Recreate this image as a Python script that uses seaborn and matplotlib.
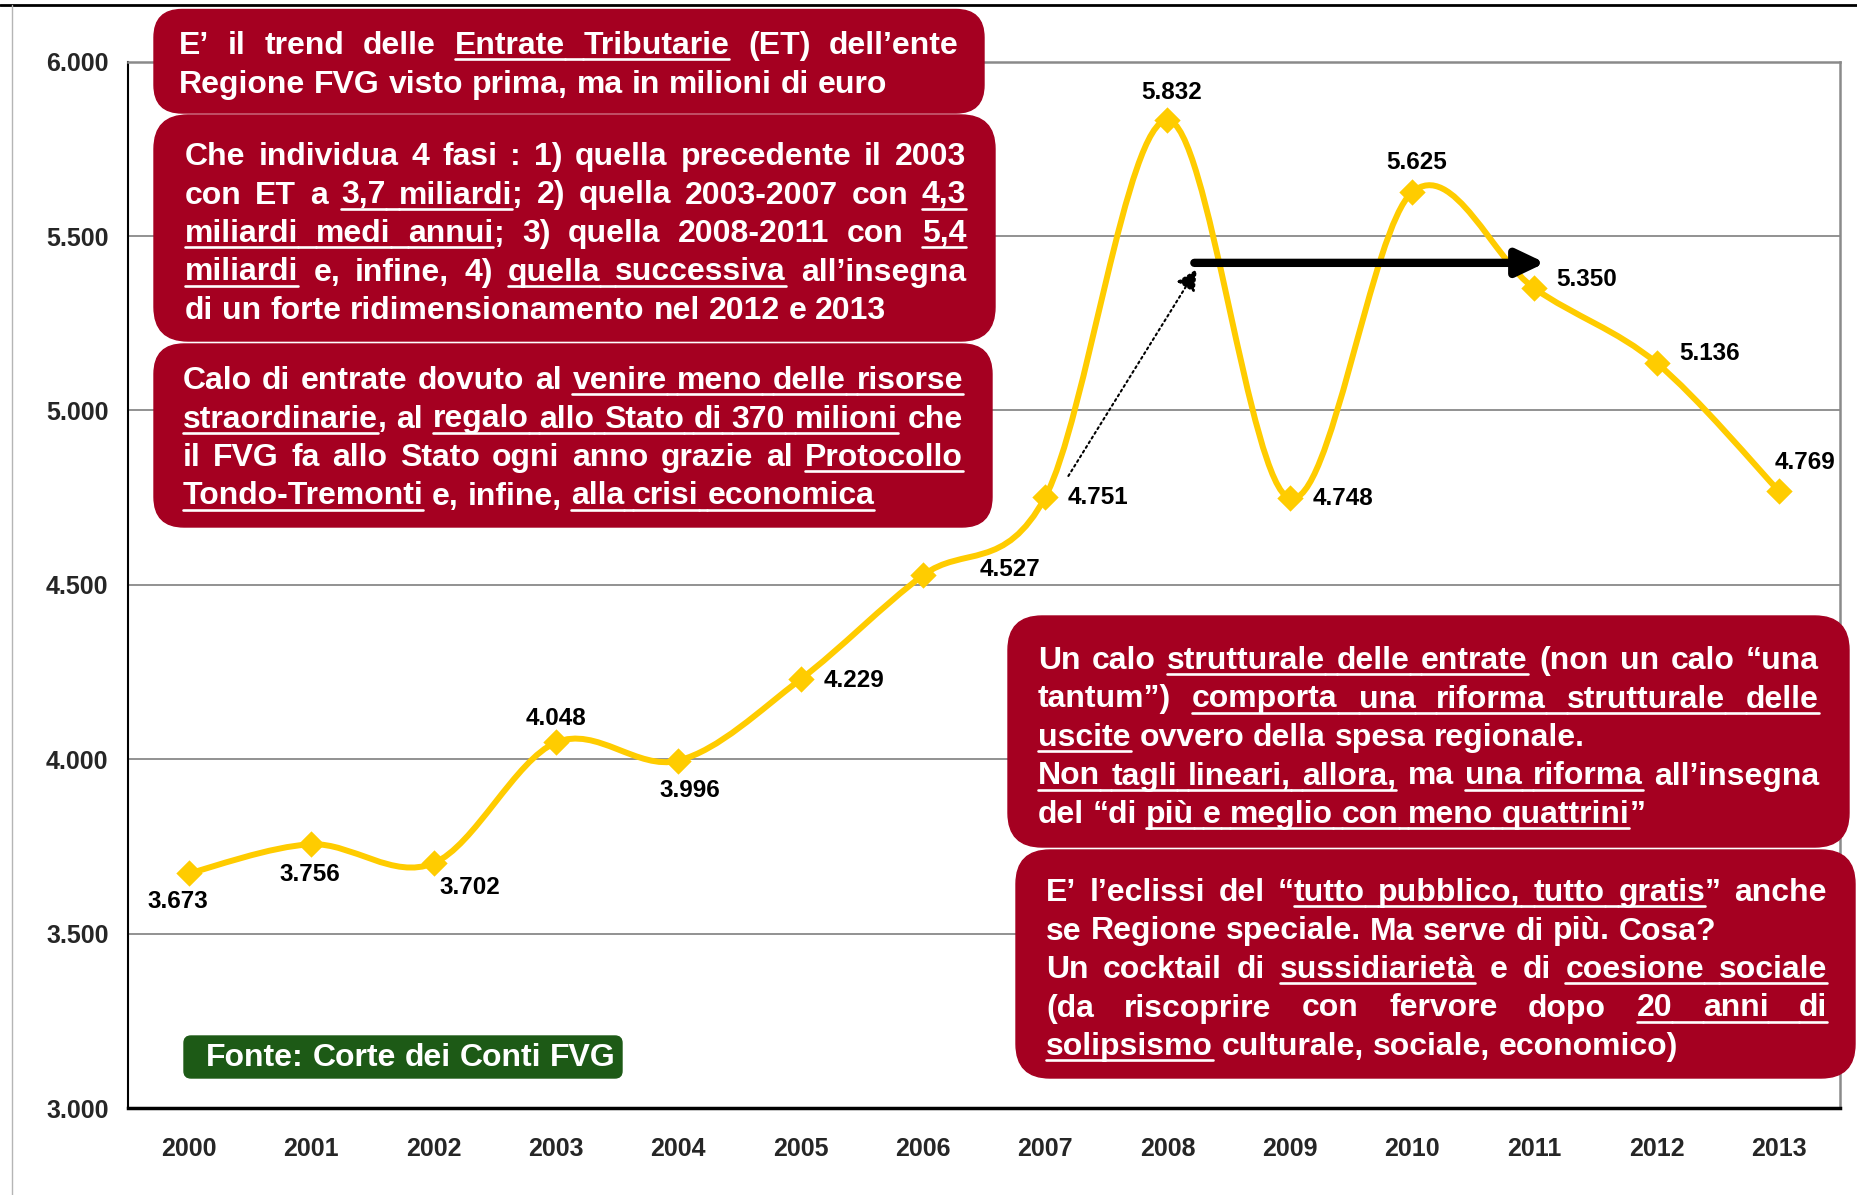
import matplotlib
matplotlib.use("Agg")
import matplotlib.pyplot as plt
import seaborn as sns
import pandas as pd
import numpy as np
from matplotlib.patches import FancyBboxPatch, PathPatch
from matplotlib.path import Path
from matplotlib.lines import Line2D
from matplotlib.transforms import IdentityTransform
from matplotlib.font_manager import FontProperties

# --- data ---
years = ["2000", "2001", "2002", "2003", "2004", "2005", "2006",
         "2007", "2008", "2009", "2010", "2011", "2012", "2013"]
entrate = [3673, 3756, 3702, 4048, 3996, 4229, 4527,
           4751, 5832, 4748, 5625, 5350, 5136, 4769]
# label offsets in pixels (dx, dy), screen-down positive
label_offsets = [(-11, 28), (-2, 30), (36, 24), (0, -24), (12, 30), (53, 1), (87, -6),
                 (53, 0), (4, -28), (53, 0), (5, -30), (52, -9), (53, -9), (26, -28)]

W, H = 1858, 1195
RED = "#A50021"
GREEN = "#1D5A16"
YELLOW = "#FFCC00"

sns.set_style("white")
plt.rcParams["font.family"] = ["Liberation Sans", "DejaVu Sans"]
plt.rcParams["font.weight"] = "bold"

df = pd.DataFrame({"anno": years, "valore": entrate})
df["pos"] = np.arange(len(years))

fig = plt.figure(figsize=(W / 100, H / 100), dpi=100)
ax = fig.add_axes([128 / W, 1 - 1108 / H, (1840 - 128) / W, (1108 - 61.6) / H])


# --- smoothed line (Excel-like Catmull-Rom bezier) ---
def smooth_path(xs, ys):
    pts = np.column_stack([xs, ys]).astype(float)
    ext = np.vstack([pts[0], pts, pts[-1]])
    verts = [tuple(pts[0])]
    codes = [Path.MOVETO]
    for i in range(len(pts) - 1):
        p0, p1, p2, p3 = ext[i], ext[i + 1], ext[i + 2], ext[i + 3]
        c1 = p1 + (p2 - p0) / 6
        c2 = p2 - (p3 - p1) / 6
        verts += [tuple(c1), tuple(c2), tuple(p2)]
        codes += [Path.CURVE4] * 3
    return Path(verts, codes)


ax.add_patch(PathPatch(smooth_path(df["pos"], df["valore"]), fc="none",
                       ec=YELLOW, lw=4.3, zorder=3, capstyle="round"))
sns.scatterplot(data=df, x="pos", y="valore", marker="D", s=180, color=YELLOW,
                edgecolor=YELLOW, linewidth=0, zorder=4, ax=ax, legend=False)

for i, (v, (dx, dy)) in enumerate(zip(entrate, label_offsets)):
    ax.annotate(f"{v:,}".replace(",", "."), (i, v), xytext=(dx, -dy),
                textcoords="offset pixels", ha="center", va="center",
                fontsize=17.5, fontweight="bold", color="black", zorder=5)

# arrows
ax.annotate("", xy=(11.09, 5423), xytext=(8.22, 5423),
            arrowprops=dict(arrowstyle="-|>,head_length=1.05,head_width=0.5",
                            lw=6, color="black", shrinkA=0, shrinkB=0,
                            mutation_scale=16), zorder=6)
ax.annotate("", xy=(8.24, 5405), xytext=(7.19, 4812),
            arrowprops=dict(arrowstyle="-|>,head_length=0.8,head_width=0.4",
                            lw=1.5, ls=":", color="black", shrinkA=0, shrinkB=0,
                            mutation_scale=16), zorder=6)

# axes styling
ax.set_xlim(-0.5, 13.5)
ax.set_ylim(3000, 6000)
yt = np.arange(3000, 6001, 500)
ax.set_yticks(yt)
ax.set_yticklabels([f"{v:,}".replace(",", ".") for v in yt])
ax.set_xticks(range(len(years)))
ax.set_xticklabels(years)
ax.set_xticks(np.arange(-0.5, 14, 1), minor=True)
ax.tick_params(axis="x", which="major", length=0, pad=21, labelsize=18)
ax.tick_params(axis="x", which="minor", length=8, width=1, color="black", direction="out")
ax.tick_params(axis="y", length=7, width=1, color="black", direction="out", pad=7, labelsize=18)
for t in ax.get_xticklabels() + ax.get_yticklabels():
    t.set_fontweight("bold")
ax.set_xlabel("")
ax.set_ylabel("")
ax.grid(axis="y", color="#7f7f7f", lw=1.2)
ax.set_axisbelow(True)
ax.spines["left"].set_color("black")
ax.spines["left"].set_linewidth(1.5)
ax.spines["bottom"].set_color("black")
ax.spines["bottom"].set_linewidth(2.5)
ax.spines["right"].set_color("#8a8a8a")
ax.spines["right"].set_linewidth(1.8)
ax.spines["top"].set_color("#8a8a8a")
ax.spines["top"].set_linewidth(1.8)

# slide borders
fig.add_artist(Line2D([0, W], [H - 5, H - 5], transform=IdentityTransform(), color="black", lw=2))
fig.add_artist(Line2D([12, 12], [0, H - 5], transform=IdentityTransform(), color="#b5b5b5", lw=1))

# --- text boxes ---
renderer = fig.canvas.get_renderer()
prop = FontProperties(family="Liberation Sans", weight="bold", size=23)


def tw(s):
    return renderer.get_text_width_height_descent(s, prop, ismath=False)[0]


SPACE = tw("n n") - tw("nn")


def box(x0, y0, x1, y1, color, r=28):
    fig.add_artist(FancyBboxPatch((x0, H - y1), x1 - x0, y1 - y0,
                                  boxstyle=f"round,pad=0,rounding_size={r}",
                                  transform=IdentityTransform(), fc=color, ec=color,
                                  lw=1, zorder=5))


def parse(markup):
    words, gaps = [[]], []
    flag = False
    for ch in markup:
        if ch == "_":
            flag = not flag
            continue
        if ch == " ":
            gaps.append(flag)
            words.append([])
            continue
        w = words[-1]
        if w and w[-1][1] == flag:
            w[-1] = (w[-1][0] + ch, flag)
        else:
            w.append((ch, flag))
    return words, gaps


def underline(xa, xb, base):
    fig.add_artist(Line2D([xa, xb], [H - base - 5, H - base - 5],
                          transform=IdentityTransform(), color="white", lw=1.9, zorder=6))


def paragraph(lines, x0, x1, base0, step=38.5):
    for k, (markup, just) in enumerate(lines):
        base = base0 + k * step
        words, gaps = parse(markup)
        widths = [sum(tw(t) for t, _ in w) for w in words]
        gap = (x1 - x0 - sum(widths)) / max(len(gaps), 1) if just else SPACE
        x = x0
        for j, w in enumerate(words):
            for t, f in w:
                wt = tw(t)
                fig.text(x, H - base, t, transform=IdentityTransform(), fontproperties=prop,
                         color="white", ha="left", va="baseline", zorder=6)
                if f:
                    underline(x, x + wt, base)
                x += wt
            if j < len(gaps):
                if gaps[j]:
                    underline(x, x + gap, base)
                x += gap


box1 = [("E’ il trend delle _Entrate Tributarie_ (ET) dell’ente", True),
        ("Regione FVG visto prima, ma in milioni di euro", False)]
box2 = [("Che individua 4 fasi : 1) quella precedente il 2003", True),
        ("con ET a _3,7 miliardi_; 2) quella 2003-2007 con _4,3_", True),
        ("_miliardi medi annui_; 3) quella 2008-2011 con _5,4_", True),
        ("_miliardi_ e, infine, 4) _quella successiva_ all’insegna", True),
        ("di un forte ridimensionamento nel 2012 e 2013", False)]
box3 = [("Calo di entrate dovuto al _venire meno delle risorse_", True),
        ("_straordinarie_, al _regalo allo Stato di 370 milioni_ che", True),
        ("il FVG fa allo Stato ogni anno grazie al _Protocollo_", True),
        ("_Tondo-Tremonti_ e, infine, _alla crisi economica_", False)]
box4 = [("Un calo _strutturale delle entrate_ (non un calo “una", True),
        ("tantum”) _comporta una riforma strutturale delle_", True),
        ("_uscite_ ovvero della spesa regionale.", False),
        ("_Non tagli lineari, allora,_ ma _una riforma_ all’insegna", True),
        ("del “di _più e meglio con meno quattrini_”", False)]
box5 = [("E’ l’eclissi del “_tutto pubblico, tutto gratis_” anche", True),
        ("se Regione speciale. Ma serve di più. Cosa?", False),
        ("Un cocktail di _sussidiarietà_ e di _coesione sociale_", True),
        ("(da riscoprire con fervore dopo _20 anni di_", True),
        ("_solipsismo_ culturale, sociale, economico)", False)]

box(154, 9.5, 984, 113, RED)
paragraph(box1, 179, 959, 54, step=39)
box(154, 115, 995, 341, RED, r=34)
paragraph(box2, 185, 966, 165)
box(154, 344, 992, 527, RED, r=30)
paragraph(box3, 182.5, 963, 389)
box(1008, 616, 1849, 847, RED, r=34)
paragraph(box4, 1038, 1819, 669)
box(1016, 850, 1855, 1078, RED, r=34)
paragraph(box5, 1046, 1827, 901)
box(184, 1036, 622, 1078, GREEN, r=7)
paragraph([("Fonte: Corte dei Conti FVG", False)], 206, 600, 1066)

fig.savefig("out.png", dpi=100)
